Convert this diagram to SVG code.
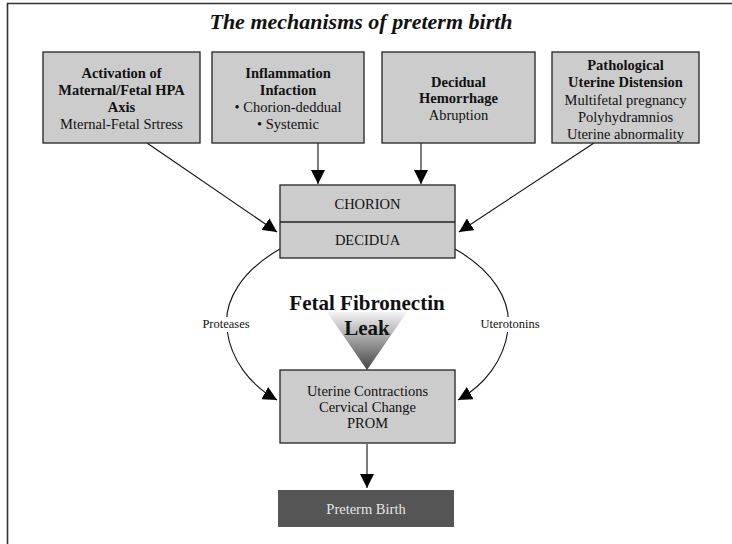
<svg xmlns="http://www.w3.org/2000/svg" width="732" height="544" viewBox="0 0 732 544">
<defs>
<style>
.box{fill:#cccccc;stroke:#222;stroke-width:1.3}
.t{font-family:"Liberation Serif","Times New Roman",serif;font-size:14.5px;fill:#111;text-anchor:middle}
.b{font-weight:bold}
.lbl{font-family:"Liberation Serif","Times New Roman",serif;font-size:12.5px;fill:#111;text-anchor:middle}
.big{font-family:"Liberation Serif","Times New Roman",serif;font-size:21px;font-weight:bold;fill:#111;text-anchor:middle}
.ln{fill:none;stroke:#111;stroke-width:1.1}
</style>
<marker id="ah" viewBox="0 0 10 10" refX="10" refY="5" markerWidth="14" markerHeight="14" markerUnits="userSpaceOnUse" orient="auto">
<path d="M0,0 L10,5 L0,10 z" fill="#000"/>
</marker>
<linearGradient id="gr" x1="0" y1="0" x2="0" y2="1">
<stop offset="0" stop-color="#f4f4f4"/>
<stop offset="1" stop-color="#444444"/>
</linearGradient>
</defs>
<rect x="0" y="0" width="732" height="544" fill="#fff"/>
<path d="M7.5,544 L7.5,3.5 L732,3.5" fill="none" stroke="#333" stroke-width="1.6"/>
<text class="big" x="361" y="29" style="font-size:22px;font-style:italic">The mechanisms of preterm birth</text>

<g id="connectors">
<line class="ln" x1="147" y1="143" x2="277" y2="232" marker-end="url(#ah)"/>
<line class="ln" x1="594" y1="143" x2="459" y2="232" marker-end="url(#ah)"/>
<line class="ln" x1="318" y1="143" x2="318" y2="184" marker-end="url(#ah)"/>
<line class="ln" x1="421" y1="143" x2="421" y2="184" marker-end="url(#ah)"/>
<path class="ln" d="M280,249 C243,270 223,300 227,330 C231,360 250,385 277,400" marker-end="url(#ah)"/>
<path class="ln" d="M455,249 C492,270 512,300 508,330 C504,360 485,385 458,400" marker-end="url(#ah)"/>
<line class="ln" x1="367" y1="444" x2="367" y2="488" marker-end="url(#ah)"/>
<rect x="198" y="317" width="56" height="15" fill="#fff"/>
<text class="lbl" x="226" y="328">Proteases</text>
<rect x="480" y="317" width="60" height="15" fill="#fff"/>
<text class="lbl" x="510" y="328">Uterotonins</text>
</g>

<g id="n1">
<rect class="box" x="43" y="52" width="157" height="91"/>
<text class="t b" x="121.5" y="78">Activation of</text>
<text class="t b" x="121.5" y="95">Maternal/Fetal HPA</text>
<text class="t b" x="121.5" y="112">Axis</text>
<text class="t" x="121.5" y="129">Mternal-Fetal Srtress</text>
</g>
<g id="n2">
<rect class="box" x="212" y="52" width="152" height="91"/>
<text class="t b" x="288" y="78">Inflammation</text>
<text class="t b" x="288" y="95">Infaction</text>
<text class="t" x="288" y="112">• Chorion-deddual</text>
<text class="t" x="288" y="129">• Systemic</text>
</g>
<g id="n3">
<rect class="box" x="382" y="52" width="153" height="91"/>
<text class="t b" x="458.5" y="87">Decidual</text>
<text class="t b" x="458.5" y="103">Hemorrhage</text>
<text class="t" x="458.5" y="120">Abruption</text>
</g>
<g id="n4">
<rect class="box" x="552" y="52" width="147" height="91"/>
<text class="t b" x="625.5" y="70">Pathological</text>
<text class="t b" x="625.5" y="87">Uterine Distension</text>
<text class="t" x="625.5" y="105">Multifetal pregnancy</text>
<text class="t" x="625.5" y="122">Polyhydramnios</text>
<text class="t" x="625.5" y="139">Uterine abnormality</text>
</g>
<g id="chorion">
<rect class="box" x="280" y="185" width="175" height="73"/>
<line x1="280" y1="222" x2="455" y2="222" stroke="#222" stroke-width="1.3"/>
<text class="t" x="367.5" y="209">CHORION</text>
<text class="t" x="367.5" y="245">DECIDUA</text>
</g>
<g id="leak">
<polygon points="327,312 407,312 367,370" fill="url(#gr)"/>
<text class="big" x="367" y="310">Fetal Fibronectin</text>
<text class="big" x="367" y="335">Leak</text>
</g>
<g id="outcome">
<rect class="box" x="280" y="370" width="175" height="73"/>
<text class="t" x="367.5" y="396">Uterine Contractions</text>
<text class="t" x="367.5" y="412">Cervical Change</text>
<text class="t" x="367.5" y="428">PROM</text>
</g>
<g id="preterm">
<rect x="278" y="490" width="176" height="37" fill="#555555"/>
<text class="t" x="366" y="514" style="fill:#e6e6e6">Preterm Birth</text>
</g>
</svg>
